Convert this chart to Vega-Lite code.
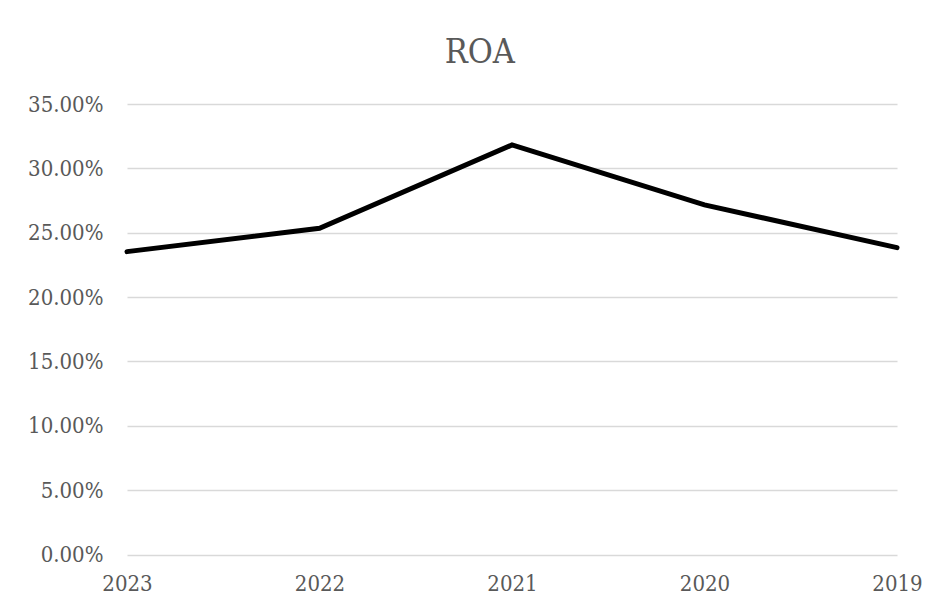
{
  "$schema": "https://vega.github.io/schema/vega-lite/v6.json",
  "autosize": {"type": "none"},
  "width": 770,
  "height": 450.5,
  "padding": {"left": 127, "top": 104, "right": 44, "bottom": 59.5},
  "background": "white",
  "title": {
    "text": "ROA",
    "font": "DejaVu Serif Condensed",
    "fontSize": 34,
    "fontWeight": "normal",
    "color": "#595959",
    "anchor": "middle",
    "frame": "bounds",
    "offset": 23,
    "dx": 5
  },
  "data": {
    "values": [
      {"year": "2023", "roa": 0.2353},
      {"year": "2022", "roa": 0.2535},
      {"year": "2021", "roa": 0.3182},
      {"year": "2020", "roa": 0.2716},
      {"year": "2019", "roa": 0.2384}
    ]
  },
  "mark": {"type": "line", "color": "black", "strokeWidth": 5, "strokeCap": "round", "strokeJoin": "miter"},
  "encoding": {
    "x": {
      "field": "year",
      "type": "ordinal",
      "sort": null,
      "scale": {"type": "point", "padding": 0},
      "axis": {
        "title": null,
        "domain": false,
        "ticks": false,
        "grid": false,
        "labelAngle": 0,
        "labelFont": "DejaVu Serif Condensed",
        "labelFontSize": 22,
        "labelColor": "#595959",
        "labelPadding": 19
      }
    },
    "y": {
      "field": "roa",
      "type": "quantitative",
      "scale": {"domain": [0, 0.35], "nice": false},
      "axis": {
        "title": null,
        "format": ".2%",
        "values": [0, 0.05, 0.1, 0.15, 0.2, 0.25, 0.3, 0.35],
        "domain": false,
        "ticks": false,
        "gridColor": "#d9d9d9",
        "gridWidth": 1.5,
        "labelFont": "DejaVu Serif Condensed",
        "labelFontSize": 22,
        "labelColor": "#595959",
        "labelPadding": 24
      }
    }
  },
  "config": {"view": {"stroke": null}}
}
